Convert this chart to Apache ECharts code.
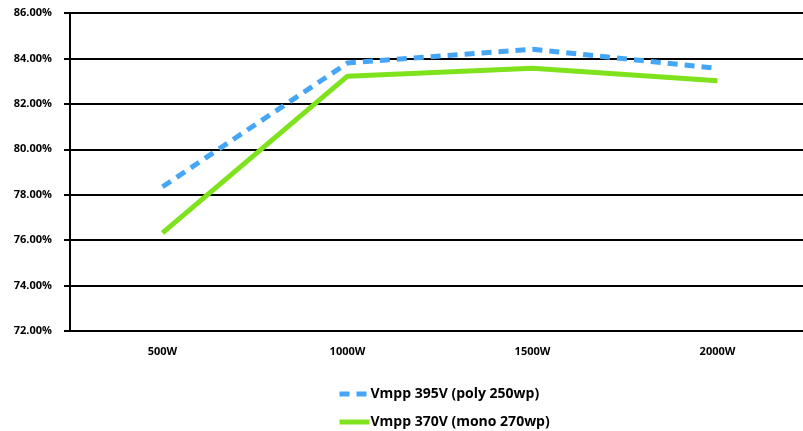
<!DOCTYPE html>
<html>
<head>
<meta charset="utf-8">
<script src="https://cdn.jsdelivr.net/npm/echarts@6/dist/echarts.min.js"></script>
<style>
html,body{margin:0;padding:0;background:#fff;}
#chart{width:803px;height:431px;}
</style>
</head>
<body>
<div id="chart"></div>
<script>
var categories=["500W","1000W","1500W","2000W"]
var poly=[78.35,83.8,84.4,83.56]
var mono=[76.32,83.22,83.57,83.02]
var seriesNames=["Vmpp 395V (poly 250wp)","Vmpp 370V (mono 270wp)"]

var mychart=echarts.init(document.getElementById('chart'));
var font='"Open Sans", sans-serif'
var option={
	animation:false,
	grid:{left:70,width:740,top:13,bottom:100,outerBoundsMode:'none',containLabel:false},
	legend:{
		orient:'vertical',
		left:337,
		top:387,
		padding:0,
		itemWidth:30,
		itemHeight:10,
		itemGap:14,
		itemStyle:{opacity:0},
		lineStyle:{width:5},
		textStyle:{color:'#000',fontFamily:font,fontWeight:'bold',fontSize:14,padding:[0,0,0,-4]},
		data:seriesNames
	},
	xAxis:{
		type:'category',//类目轴
		data:categories,
		axisLine:{lineStyle:{color:'#000',width:2}},
		axisTick:{alignWithLabel:true,length:7,lineStyle:{color:'#000',width:2}},
		axisLabel:{color:'#000',fontFamily:font,fontWeight:'bold',fontSize:11,margin:15}
	},
	yAxis:{
		type:'value',
		min:72,max:86,interval:2,
		axisLine:{show:true,lineStyle:{color:'#000',width:2}},
		axisTick:{show:true,inside:false,length:6,lineStyle:{color:'#000',width:2}},
		splitLine:{lineStyle:{color:'#000',width:2}},
		axisLabel:{color:'#000',fontFamily:font,fontWeight:'bold',fontSize:11,margin:18,
			formatter:function(v){return v.toFixed(2)+'%'}}
	},
	series:[{
		name:seriesNames[0],
		type:'line',
		data:poly,
		symbol:'none',
		itemStyle:{color:'#45a6f7'},
		lineStyle:{color:'#45a6f7',width:5,type:[10,7]}
	},{
		name:seriesNames[1],
		type:'line',
		data:mono,
		symbol:'none',
		itemStyle:{color:'#7ee21c'},
		lineStyle:{color:'#7ee21c',width:5}
	}]
};
mychart.setOption(option);
</script>
</body>
</html>
